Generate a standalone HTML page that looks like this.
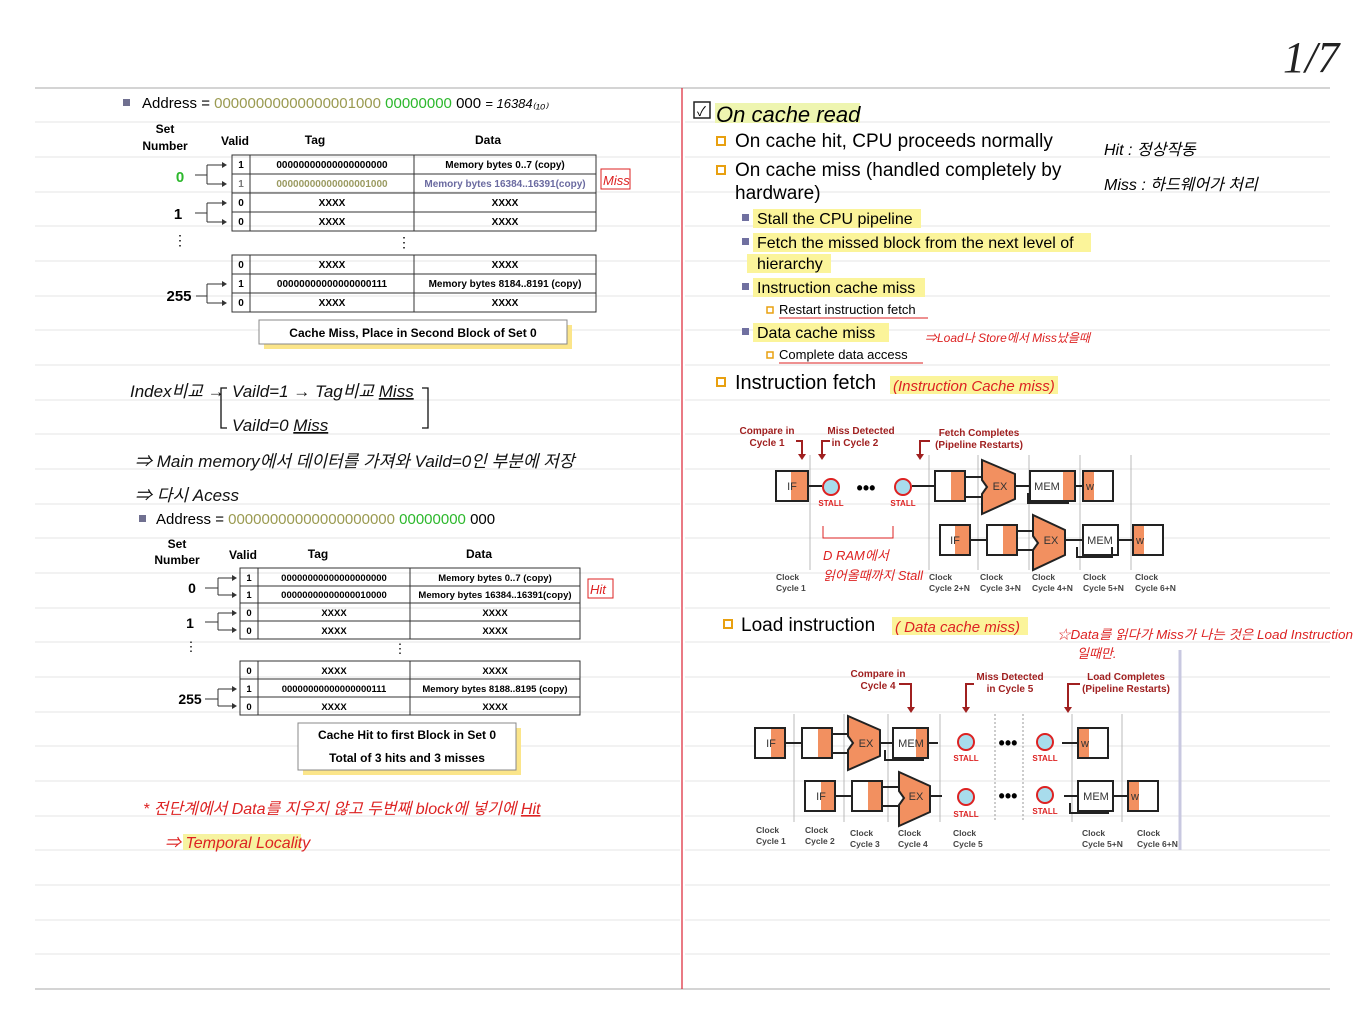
<!DOCTYPE html>
<html><head><meta charset="utf-8"><style>
html,body{margin:0;padding:0;background:#fff}
svg{display:block}
text{font-family:"Liberation Sans","Noto Sans CJK KR",sans-serif}
.b{font-weight:bold}
.h{font-style:italic;font-family:"Liberation Sans","Noto Sans CJK KR",sans-serif}
</style></head><body>
<svg width="1365" height="1024" viewBox="0 0 1365 1024" xmlns="http://www.w3.org/2000/svg">
<g stroke="#e4e4e4" stroke-width="1">
<line x1="35" y1="122" x2="680" y2="122"/><line x1="35" y1="157" x2="680" y2="157"/><line x1="35" y1="192" x2="680" y2="192"/><line x1="35" y1="226" x2="680" y2="226"/><line x1="35" y1="261" x2="680" y2="261"/><line x1="35" y1="296" x2="680" y2="296"/><line x1="35" y1="330" x2="680" y2="330"/><line x1="35" y1="365" x2="680" y2="365"/><line x1="35" y1="400" x2="680" y2="400"/><line x1="35" y1="434" x2="680" y2="434"/><line x1="35" y1="469" x2="680" y2="469"/><line x1="35" y1="504" x2="680" y2="504"/><line x1="35" y1="538" x2="680" y2="538"/><line x1="35" y1="573" x2="680" y2="573"/><line x1="35" y1="608" x2="680" y2="608"/><line x1="35" y1="642" x2="680" y2="642"/><line x1="35" y1="677" x2="680" y2="677"/><line x1="35" y1="712" x2="680" y2="712"/><line x1="35" y1="746" x2="680" y2="746"/><line x1="35" y1="781" x2="680" y2="781"/><line x1="35" y1="816" x2="680" y2="816"/><line x1="35" y1="850" x2="680" y2="850"/><line x1="35" y1="885" x2="680" y2="885"/><line x1="35" y1="920" x2="680" y2="920"/><line x1="35" y1="954" x2="680" y2="954"/>
<line x1="685" y1="122" x2="1330" y2="122"/><line x1="685" y1="157" x2="1330" y2="157"/><line x1="685" y1="192" x2="1330" y2="192"/><line x1="685" y1="226" x2="1330" y2="226"/><line x1="685" y1="261" x2="1330" y2="261"/><line x1="685" y1="296" x2="1330" y2="296"/><line x1="685" y1="330" x2="1330" y2="330"/><line x1="685" y1="365" x2="1330" y2="365"/><line x1="685" y1="400" x2="1330" y2="400"/><line x1="685" y1="434" x2="1330" y2="434"/><line x1="685" y1="469" x2="1330" y2="469"/><line x1="685" y1="504" x2="1330" y2="504"/><line x1="685" y1="538" x2="1330" y2="538"/><line x1="685" y1="573" x2="1330" y2="573"/><line x1="685" y1="608" x2="1330" y2="608"/><line x1="685" y1="642" x2="1330" y2="642"/><line x1="685" y1="677" x2="1330" y2="677"/><line x1="685" y1="712" x2="1330" y2="712"/><line x1="685" y1="746" x2="1330" y2="746"/><line x1="685" y1="781" x2="1330" y2="781"/><line x1="685" y1="816" x2="1330" y2="816"/><line x1="685" y1="850" x2="1330" y2="850"/><line x1="685" y1="885" x2="1330" y2="885"/><line x1="685" y1="920" x2="1330" y2="920"/><line x1="685" y1="954" x2="1330" y2="954"/>
</g>
<line x1="35" y1="88" x2="1330" y2="88" stroke="#aaa"/>
<line x1="35" y1="989" x2="1330" y2="989" stroke="#aaa"/>
<line x1="682" y1="88" x2="682" y2="989" stroke="#d23" stroke-width="1.2"/>
<text x="1283" y="72" font-size="44" class="h" font-weight="normal" fill="#222" style="font-family:'Liberation Serif',serif">1/7</text>

<!-- LEFT TOP -->
<rect x="123" y="99" width="7" height="7" fill="#707090"/>
<text x="142" y="108" font-size="15">Address = <tspan fill="#9a9a50">00000000000000001000</tspan> <tspan fill="#2cb82c">00000000</tspan> 000 <tspan class="h" font-size="13">= 16384₍₁₀₎</tspan></text>
<g class="b" font-size="12" font-weight="bold" text-anchor="middle">
<text x="165" y="133">Set</text><text x="165" y="150">Number</text>
<text x="235" y="145">Valid</text><text x="315" y="144">Tag</text><text x="488" y="144">Data</text>
</g>
<g fill="none" stroke="#333">
<rect x="232" y="155" width="364" height="76"/><rect x="232" y="255" width="364" height="57"/>
<line x1="232" y1="174" x2="596" y2="174"/><line x1="232" y1="193" x2="596" y2="193"/><line x1="232" y1="212" x2="596" y2="212"/>
<line x1="232" y1="274" x2="596" y2="274"/><line x1="232" y1="293" x2="596" y2="293"/>
<line x1="250" y1="155" x2="250" y2="231"/><line x1="414" y1="155" x2="414" y2="231"/>
<line x1="250" y1="255" x2="250" y2="312"/><line x1="414" y1="255" x2="414" y2="312"/>
</g>
<g font-size="10" font-weight="bold" text-anchor="middle">
<text x="241" y="168">1</text><text x="332" y="168">00000000000000000000</text><text x="505" y="168">Memory bytes 0..7 (copy)</text>
<text x="241" y="187" fill="#777">1</text><text x="332" y="187" fill="#9a9a60">00000000000000001000</text><text x="505" y="187" fill="#6a6aa0">Memory bytes 16384..16391(copy)</text>
<text x="241" y="206">0</text><text x="332" y="206">XXXX</text><text x="505" y="206">XXXX</text>
<text x="241" y="225">0</text><text x="332" y="225">XXXX</text><text x="505" y="225">XXXX</text>
<text x="241" y="268">0</text><text x="332" y="268">XXXX</text><text x="505" y="268">XXXX</text>
<text x="241" y="287">1</text><text x="332" y="287">00000000000000000111</text><text x="505" y="287">Memory bytes 8184..8191 (copy)</text>
<text x="241" y="306">0</text><text x="332" y="306">XXXX</text><text x="505" y="306">XXXX</text>
</g>
<text x="404" y="247" font-size="14" text-anchor="middle">⋮</text>
<g font-size="15" font-weight="bold" text-anchor="middle">
<text x="180" y="182" fill="#2cb82c">0</text><text x="178" y="219">1</text><text x="179" y="301">255</text>
</g>
<text x="180" y="245" font-size="14" text-anchor="middle">⋮</text>
<g stroke="#333" fill="none">
<path d="M195 175H207M207 165V184M207 165H222M207 184H222"/>
<path d="M195 213H207M207 203V222M207 203H222M207 222H222"/>
<path d="M196 296H207M207 284V303M207 284H222M207 303H222"/>
</g>
<g fill="#333">
<path d="M222 162l5 3-5 3z"/><path d="M222 181l5 3-5 3z"/><path d="M222 200l5 3-5 3z"/><path d="M222 219l5 3-5 3z"/><path d="M222 281l5 3-5 3z"/><path d="M222 300l5 3-5 3z"/>
</g>
<rect x="601" y="169" width="29" height="20" fill="none" stroke="#d22"/>
<text x="603" y="185" font-size="13" fill="#d22" class="h">Miss</text>
<rect x="264" y="325" width="308" height="24" fill="#fbe58a"/>
<rect x="259" y="320" width="308" height="24" fill="#fff" stroke="#888"/>
<text x="413" y="337" font-size="12" font-weight="bold" text-anchor="middle">Cache Miss, Place in Second Block of Set 0</text>

<!-- handwriting left -->
<g class="h" font-size="17" fill="#111">
<text x="130" y="397">Index비교 →</text>
<text x="232" y="397">Vaild=1  → Tag비교  <tspan text-decoration="underline">Miss</tspan></text>
<text x="232" y="431">Vaild=0  <tspan text-decoration="underline">Miss</tspan></text>
<text x="135" y="467">⇒ Main memory에서 데이터를 가져와 Vaild=0인 부분에 저장</text>
<text x="135" y="501">⇒ 다시 Acess</text>
</g>
<path d="M227 388h-6v40h6M422 388h6v40h-6" fill="none" stroke="#111" stroke-width="1.3"/>

<!-- LEFT BOTTOM -->
<rect x="139" y="515" width="7" height="7" fill="#707090"/>
<text x="156" y="524" font-size="15">Address = <tspan fill="#9a9a50">00000000000000000000</tspan> <tspan fill="#2cb82c">00000000</tspan> 000</text>
<g font-size="12" font-weight="bold" text-anchor="middle">
<text x="177" y="548">Set</text><text x="177" y="564">Number</text>
<text x="243" y="559">Valid</text><text x="318" y="558">Tag</text><text x="479" y="558">Data</text>
</g>
<g fill="none" stroke="#333">
<rect x="240" y="568" width="340" height="71"/><rect x="240" y="661" width="340" height="54"/>
<line x1="240" y1="586" x2="580" y2="586"/><line x1="240" y1="603" x2="580" y2="603"/><line x1="240" y1="621" x2="580" y2="621"/>
<line x1="240" y1="679" x2="580" y2="679"/><line x1="240" y1="697" x2="580" y2="697"/>
<line x1="258" y1="568" x2="258" y2="639"/><line x1="410" y1="568" x2="410" y2="639"/>
<line x1="258" y1="661" x2="258" y2="715"/><line x1="410" y1="661" x2="410" y2="715"/>
</g>
<g font-size="9.5" font-weight="bold" text-anchor="middle">
<text x="249" y="581">1</text><text x="334" y="581">00000000000000000000</text><text x="495" y="581">Memory bytes 0..7 (copy)</text>
<text x="249" y="598">1</text><text x="334" y="598">00000000000000010000</text><text x="495" y="598">Memory bytes 16384..16391(copy)</text>
<text x="249" y="616">0</text><text x="334" y="616">XXXX</text><text x="495" y="616">XXXX</text>
<text x="249" y="634">0</text><text x="334" y="634">XXXX</text><text x="495" y="634">XXXX</text>
<text x="249" y="674">0</text><text x="334" y="674">XXXX</text><text x="495" y="674">XXXX</text>
<text x="249" y="692">1</text><text x="334" y="692">00000000000000000111</text><text x="495" y="692">Memory bytes 8188..8195 (copy)</text>
<text x="249" y="710">0</text><text x="334" y="710">XXXX</text><text x="495" y="710">XXXX</text>
</g>
<text x="400" y="653" font-size="13" text-anchor="middle">⋮</text>
<g font-size="14" font-weight="bold" text-anchor="middle">
<text x="192" y="593">0</text><text x="190" y="628">1</text><text x="190" y="704">255</text>
</g>
<text x="191" y="651" font-size="13" text-anchor="middle">⋮</text>
<g stroke="#333" fill="none">
<path d="M205 588H218M218 578V595M218 578H232M218 595H232"/>
<path d="M205 622H218M218 613V630M218 613H232M218 630H232"/>
<path d="M205 699H218M218 689V706M218 689H232M218 706H232"/>
</g>
<g fill="#333">
<path d="M232 575l5 3-5 3z"/><path d="M232 592l5 3-5 3z"/><path d="M232 610l5 3-5 3z"/><path d="M232 627l5 3-5 3z"/><path d="M232 686l5 3-5 3z"/><path d="M232 703l5 3-5 3z"/>
</g>
<rect x="588" y="579" width="25" height="19" fill="none" stroke="#d22"/>
<text x="590" y="594" font-size="13" fill="#d22" class="h">Hit</text>
<rect x="303" y="728" width="218" height="47" fill="#fbe58a"/>
<rect x="298" y="723" width="218" height="47" fill="#fff" stroke="#888"/>
<text x="407" y="739" font-size="12" font-weight="bold" text-anchor="middle">Cache Hit to first Block in Set 0</text>
<text x="407" y="762" font-size="12" font-weight="bold" text-anchor="middle">Total of 3 hits and 3 misses</text>
<g class="h" font-size="16" fill="#d22">
<text x="143" y="814">* 전단계에서 Data를 지우지 않고 두번째 block에 넣기에 <tspan text-decoration="underline">Hit</tspan></text>
<rect x="183" y="834" width="118" height="16" fill="#f6f3a0"/>
<text x="165" y="848">⇒ Temporal Locality</text>
</g>

<!-- RIGHT -->
<rect x="715" y="103" width="145" height="20" fill="#eef5b0"/>
<rect x="694" y="102" width="16" height="16" fill="none" stroke="#222" stroke-width="1.5"/>
<text x="697" y="116" font-size="13">✓</text>
<text x="716" y="122" font-size="22" class="h">On cache read</text>
<g font-size="19">
<rect x="717" y="137" width="8" height="8" fill="none" stroke="#e8a010" stroke-width="2"/>
<text x="735" y="147">On cache hit, CPU proceeds normally</text>
<rect x="717" y="166" width="8" height="8" fill="none" stroke="#e8a010" stroke-width="2"/>
<text x="735" y="176">On cache miss (handled completely by</text>
<text x="735" y="199">hardware)</text>
</g>
<g class="h" font-size="16"><text x="1104" y="155">Hit : 정상작동</text><text x="1104" y="190">Miss : 하드웨어가 처리</text></g>
<g font-size="16">
<rect x="753" y="209" width="168" height="19" fill="#fbf49a"/>
<rect x="753" y="233" width="338" height="19" fill="#fbf49a"/>
<rect x="747" y="254" width="84" height="19" fill="#fbf49a"/>
<rect x="753" y="278" width="172" height="19" fill="#fbf49a"/>
<rect x="753" y="323" width="136" height="19" fill="#fbf49a"/>
<rect x="742" y="214" width="7" height="7" fill="#7070a0"/><text x="757" y="224">Stall the CPU pipeline</text>
<rect x="742" y="238" width="7" height="7" fill="#7070a0"/><text x="757" y="248">Fetch the missed block from the next level of</text>
<text x="757" y="269">hierarchy</text>
<rect x="742" y="283" width="7" height="7" fill="#7070a0"/><text x="757" y="293">Instruction cache miss</text>
<rect x="742" y="328" width="7" height="7" fill="#7070a0"/><text x="757" y="338">Data cache miss</text>
</g>
<g font-size="13">
<rect x="767" y="307" width="6" height="6" fill="none" stroke="#e8a010" stroke-width="1.5"/><text x="779" y="314">Restart instruction fetch</text>
<rect x="767" y="352" width="6" height="6" fill="none" stroke="#e8a010" stroke-width="1.5"/><text x="779" y="359">Complete data access</text>
</g>
<line x1="779" y1="318" x2="928" y2="318" stroke="#d22"/><line x1="779" y1="363" x2="923" y2="363" stroke="#d22"/>
<text x="925" y="342" font-size="12" fill="#d22" class="h">⇒Load나 Store에서 Miss났을때</text>
<rect x="717" y="378" width="8" height="8" fill="none" stroke="#e8a010" stroke-width="2"/>
<text x="735" y="389" font-size="20">Instruction fetch</text>
<rect x="890" y="376" width="168" height="18" fill="#fbf49a"/>
<text x="893" y="391" font-size="15" fill="#d22" class="h">(Instruction Cache miss)</text>

<!-- pipeline 1 -->
<g font-size="10" font-weight="bold" fill="#a02020" text-anchor="middle">
<text x="767" y="434">Compare in</text><text x="767" y="446">Cycle 1</text>
<text x="861" y="434">Miss Detected</text><text x="855" y="446">in Cycle 2</text>
<text x="979" y="436">Fetch Completes</text><text x="979" y="448">(Pipeline Restarts)</text>
</g>
<g stroke="#a02020" stroke-width="2" fill="none"><path d="M796 441h6v14M830 441h-8v14M930 441h-10v14"/></g>
<g fill="#a02020"><path d="M798 454h8l-4 6z"/><path d="M818 454h8l-4 6z"/><path d="M916 454h8l-4 6z"/></g>
<g stroke="#bbb"><line x1="810" y1="455" x2="810" y2="570"/><line x1="929" y1="455" x2="929" y2="570"/><line x1="978" y1="455" x2="978" y2="570"/><line x1="1029" y1="455" x2="1029" y2="570"/><line x1="1080" y1="455" x2="1080" y2="570"/><line x1="1131" y1="455" x2="1131" y2="570"/></g>
<g stroke="#222" stroke-width="2" fill="#fff">
<line x1="808" y1="486" x2="822" y2="486"/><line x1="912" y1="486" x2="935" y2="486"/>
<path d="M965 477h20M965 497h20M1015 486h15M1075 486h8" fill="none"/>
<rect x="776" y="471" width="32" height="30"/><rect x="935" y="471" width="30" height="30"/><rect x="1030" y="471" width="45" height="30"/><rect x="1083" y="471" width="30" height="30"/>
<path d="M1068 493v10h-40v-10" fill="none"/>
<rect x="940" y="525" width="30" height="30"/><rect x="987" y="525" width="30" height="30"/><rect x="1083" y="525" width="35" height="30"/><rect x="1133" y="525" width="30" height="30"/>
<path d="M970 540h17M1017 531h18M1017 550h18M1065 540h18M1118 540h15M1112 547v10h-35v-10" fill="none"/>
</g>
<g fill="#f29060">
<rect x="791" y="472" width="16" height="28"/><rect x="951" y="472" width="13" height="28"/><rect x="1063" y="472" width="11" height="28"/><rect x="1084" y="472" width="10" height="28"/>
<rect x="955" y="526" width="14" height="28"/><rect x="1003" y="526" width="13" height="28"/><rect x="1134" y="526" width="10" height="28"/>
</g>
<g fill="#f29060" stroke="#222" stroke-width="2">
<path d="M982 460l33 14v25l-33 15v-20l5-7-5-7z"/>
<path d="M1033 515l32 15v25l-32 15v-20l5-7-5-7z"/>
</g>
<g font-size="11" fill="#333" text-anchor="middle">
<text x="792" y="490">IF</text><text x="1000" y="490">EX</text><text x="1047" y="490">MEM</text><text x="1090" y="490">w</text>
<text x="955" y="544">IF</text><text x="1051" y="544">EX</text><text x="1100" y="544">MEM</text><text x="1140" y="544">w</text>
</g>
<g stroke="#d22" stroke-width="2" fill="#a8dcec"><circle cx="831" cy="487" r="8"/><circle cx="903" cy="487" r="8"/></g>
<text x="866" y="494" font-size="18" font-weight="bold" text-anchor="middle">•••</text>
<g font-size="8" font-weight="bold" fill="#d22" text-anchor="middle"><text x="831" y="506">STALL</text><text x="903" y="506">STALL</text></g>
<path d="M823 526v12h70v-12" fill="none" stroke="#d22"/>
<g class="h" font-size="13" fill="#d22"><text x="823" y="560">D RAM에서</text><text x="823" y="580" textLength="100" lengthAdjust="spacingAndGlyphs">읽어올때까지 Stall</text></g>
<g font-size="8.5" font-weight="bold" fill="#444">
<text x="776" y="580">Clock</text><text x="776" y="591">Cycle 1</text>
<text x="929" y="580">Clock</text><text x="929" y="591">Cycle 2+N</text>
<text x="980" y="580">Clock</text><text x="980" y="591">Cycle 3+N</text>
<text x="1032" y="580">Clock</text><text x="1032" y="591">Cycle 4+N</text>
<text x="1083" y="580">Clock</text><text x="1083" y="591">Cycle 5+N</text>
<text x="1135" y="580">Clock</text><text x="1135" y="591">Cycle 6+N</text>
</g>

<!-- Load instruction -->
<rect x="724" y="620" width="8" height="8" fill="none" stroke="#e8a010" stroke-width="2"/>
<text x="741" y="631" font-size="19">Load instruction</text>
<rect x="892" y="617" width="136" height="18" fill="#fbf49a"/>
<text x="895" y="632" font-size="15" fill="#d22" class="h">( Data cache miss)</text>
<text x="1057" y="639" font-size="13" fill="#d22" class="h" textLength="296" lengthAdjust="spacingAndGlyphs">☆Data를 읽다가 Miss가 나는 것은 Load Instruction</text>
<text x="1077" y="658" font-size="13" fill="#d22" class="h">일때만.</text>
<line x1="1180" y1="650" x2="1180" y2="850" stroke="#c8c8e0" stroke-width="3"/>
<g font-size="10" font-weight="bold" fill="#a02020" text-anchor="middle">
<text x="878" y="677">Compare in</text><text x="878" y="689">Cycle 4</text>
<text x="1010" y="680">Miss Detected</text><text x="1010" y="692">in Cycle 5</text>
<text x="1126" y="680">Load Completes</text><text x="1126" y="692">(Pipeline Restarts)</text>
</g>
<g stroke="#a02020" stroke-width="2" fill="none"><path d="M899 684h12v24M974 684h-8v24M1080 684h-12v24"/></g>
<g fill="#a02020"><path d="M907 707h8l-4 6z"/><path d="M962 707h8l-4 6z"/><path d="M1064 707h8l-4 6z"/></g>
<g stroke="#bbb"><line x1="794" y1="714" x2="794" y2="822"/><line x1="844" y1="714" x2="844" y2="822"/><line x1="888" y1="714" x2="888" y2="822"/><line x1="940" y1="714" x2="940" y2="822"/><line x1="1072" y1="714" x2="1072" y2="822"/><line x1="1122" y1="714" x2="1122" y2="822"/></g>
<g stroke="#999" stroke-dasharray="2,2"><line x1="995" y1="714" x2="995" y2="822"/><line x1="1023" y1="714" x2="1023" y2="822"/></g>
<g stroke="#222" stroke-width="2" fill="#fff">
<path d="M785 743h17M832 734h18M832 753h18M880 743h13M928 743h10M1062 743h16M835 796h17M882 787h18M882 806h18M930 796h12M1064 796h14M1113 796h15M923 750v10h-38v-10M1108 803v10h-38v-10" fill="none"/>
<rect x="755" y="728" width="30" height="30"/><rect x="802" y="728" width="30" height="30"/><rect x="893" y="728" width="35" height="30"/><rect x="1078" y="728" width="30" height="30"/>
<rect x="805" y="781" width="30" height="30"/><rect x="852" y="781" width="30" height="30"/><rect x="1078" y="781" width="35" height="30"/><rect x="1128" y="781" width="30" height="30"/>
</g>
<g fill="#f29060">
<rect x="771" y="729" width="13" height="28"/><rect x="818" y="729" width="13" height="28"/><rect x="916" y="729" width="11" height="28"/><rect x="1079" y="729" width="10" height="28"/>
<rect x="821" y="782" width="13" height="28"/><rect x="868" y="782" width="13" height="28"/><rect x="1129" y="782" width="10" height="28"/>
</g>
<g fill="#f29060" stroke="#222" stroke-width="2">
<path d="M848 716l32 14v26l-32 14v-20l5-7-5-7z"/>
<path d="M899 772l31 14v26l-31 14v-21l5-7-5-7z"/>
</g>
<g font-size="11" fill="#333" text-anchor="middle">
<text x="771" y="747">IF</text><text x="866" y="747">EX</text><text x="911" y="747">MEM</text><text x="1085" y="747">w</text>
<text x="821" y="800">IF</text><text x="916" y="800">EX</text><text x="1096" y="800">MEM</text><text x="1135" y="800">w</text>
</g>
<g stroke="#d22" stroke-width="2" fill="#a8dcec"><circle cx="966" cy="742" r="8"/><circle cx="1045" cy="742" r="8"/><circle cx="966" cy="797" r="8"/><circle cx="1045" cy="795" r="8"/></g>
<g font-size="18" font-weight="bold" text-anchor="middle"><text x="1008" y="749">•••</text><text x="1008" y="802">•••</text></g>
<g font-size="8" font-weight="bold" fill="#d22" text-anchor="middle"><text x="966" y="761">STALL</text><text x="1045" y="761">STALL</text><text x="966" y="817">STALL</text><text x="1045" y="814">STALL</text></g>
<g font-size="8.5" font-weight="bold" fill="#444">
<text x="756" y="833">Clock</text><text x="756" y="844">Cycle 1</text>
<text x="805" y="833">Clock</text><text x="805" y="844">Cycle 2</text>
<text x="850" y="836">Clock</text><text x="850" y="847">Cycle 3</text>
<text x="898" y="836">Clock</text><text x="898" y="847">Cycle 4</text>
<text x="953" y="836">Clock</text><text x="953" y="847">Cycle 5</text>
<text x="1082" y="836">Clock</text><text x="1082" y="847">Cycle 5+N</text>
<text x="1137" y="836">Clock</text><text x="1137" y="847">Cycle 6+N</text>
</g>
</svg>
</body></html>
